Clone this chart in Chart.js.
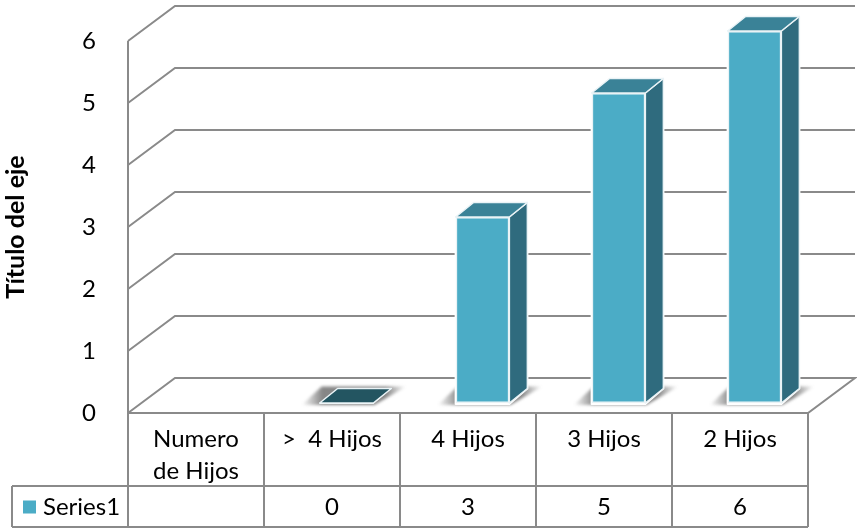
<!DOCTYPE html>
<html>
<head>
<meta charset="utf-8">
<style>
  html, body { margin: 0; padding: 0; background: #ffffff; }
  #wrap { position: relative; width: 857px; height: 529px; }
</style>
<script src="https://cdn.jsdelivr.net/npm/chart.js@4"></script>
</head>
<body>
<div id="wrap"><canvas id="chart" width="857" height="529"></canvas></div>
<script>
const categories = [["Numero", "de Hijos"], ">  4 Hijos", "4 Hijos", "3 Hijos", "2 Hijos"];
const seriesName = "Series1";
const seriesValues = [null, 0, 3, 5, 6];
const axisTitle = "Título del eje";

const FONT = "Lato, 'Open Sans', sans-serif";
const INK = "#000000";
const LINE = "#8a8a8a";
const FRONT = "#4bacc6";
const TOP = "#3a8297";
const SIDE = "#2f6b7e";
const ZERO_TOP = "#235561";

// Projection of the box: wall depth and the inset of the bars on the floor.
const WALL = { dx: 47, dy: -35 };
const BAR_OFFSET = { dx: 14.5, dy: -10 };
const BAR_DEPTH = { dx: 18, dy: -14.5 };
const TABLE = { rowY: 486, bottom: 527, legendLeft: 12 };

function polygon(ctx, pts) {
  ctx.beginPath();
  pts.forEach((p, i) => (i ? ctx.lineTo(p[0], p[1]) : ctx.moveTo(p[0], p[1])));
  ctx.closePath();
}

// Back wall, side wall and floor, placed from the value scale.
const wallPlugin = {
  id: "wall",
  beforeDatasetsDraw(chart) {
    const { ctx, chartArea: a, scales: { y } } = chart;
    ctx.save();
    ctx.strokeStyle = LINE;
    ctx.lineWidth = 2;
    ctx.lineJoin = "miter";
    y.ticks.forEach(t => {
      const py = y.getPixelForValue(t.value);
      ctx.beginPath();
      ctx.moveTo(a.left, py);
      ctx.lineTo(a.left + WALL.dx, py + WALL.dy);
      ctx.lineTo(a.right + WALL.dx, py + WALL.dy);
      if (t.value === 0) {
        ctx.lineTo(a.right, py);
        ctx.lineTo(a.left, py);
      }
      ctx.stroke();
    });
    ctx.beginPath();
    ctx.moveTo(a.left, y.getPixelForValue(6));
    ctx.lineTo(a.left, y.getPixelForValue(0));
    ctx.stroke();
    ctx.restore();
  }
};

// Soft floor shadows, side and top faces; the front faces stay with the bar elements.
const depthPlugin = {
  id: "depth",
  beforeDatasetDraw(chart) {
    const { ctx } = chart;
    const bars = chart.getDatasetMeta(0).data;
    ctx.save();
    ctx.translate(BAR_OFFSET.dx, BAR_OFFSET.dy);
    bars.forEach((bar, i) => {
      const v = seriesValues[i];
      if (v === null) return;
      const l = bar.x - bar.width / 2, r = bar.x + bar.width / 2;
      const t = bar.y, b = bar.base;
      const d = BAR_DEPTH;

      // Floor shadow, dark beside the bar and fading outwards.
      ctx.save();
      ctx.filter = "blur(1.5px)";
      const fade = ctx.createLinearGradient(l - 18, 0, r + d.dx + 15, 0);
      fade.addColorStop(0, "rgba(60,60,60,0)");
      fade.addColorStop(0.2, "rgba(60,60,60,0.62)");
      fade.addColorStop(0.8, "rgba(60,60,60,0.62)");
      fade.addColorStop(1, "rgba(60,60,60,0)");
      ctx.fillStyle = fade;
      polygon(ctx, [[l - 18, b + 2], [r + 1, b + 2], [r + d.dx + 15, b + d.dy - 2], [l + 2, b + d.dy - 2]]);
      ctx.fill();
      ctx.restore();

      ctx.fillStyle = "#ffffff";
      ctx.strokeStyle = "#ffffff";
      ctx.lineWidth = 2;
      ctx.lineJoin = "round";
      polygon(ctx, [[l, b + 1], [r, b + 1], [r + d.dx, b + d.dy], [r + d.dx, t + d.dy], [l + d.dx, t + d.dy], [l, t]]);
      ctx.fill();
      if (v > 0) ctx.stroke();

      ctx.strokeStyle = "#eaf3f6";
      ctx.lineWidth = 1.5;
      if (v > 0) {
        ctx.fillStyle = SIDE;
        polygon(ctx, [[r, t], [r + d.dx, t + d.dy], [r + d.dx, b + d.dy], [r, b]]);
        ctx.fill();
        ctx.stroke();
      }
      ctx.fillStyle = v > 0 ? TOP : ZERO_TOP;
      polygon(ctx, [[l, t], [r, t], [r + d.dx, t + d.dy], [l + d.dx, t + d.dy]]);
      ctx.fill();
      ctx.stroke();
    });
    ctx.restore();
    // Shifted so the bar elements sit on the same floor line as their faces.
    ctx.save();
    ctx.translate(BAR_OFFSET.dx, BAR_OFFSET.dy);
  },
  afterDatasetDraw(chart) {
    chart.ctx.restore();
  }
};

// Data table below the plot: grid, value row and the legend key.
const tablePlugin = {
  id: "table",
  afterDraw(chart) {
    const { ctx, chartArea: a, scales: { x } } = chart;
    const n = categories.length;
    const w = (a.right - a.left) / n;
    ctx.save();
    ctx.strokeStyle = LINE;
    ctx.lineWidth = 2;
    ctx.beginPath();
    for (let i = 0; i <= n; i++) {
      const px = a.left + w * i;
      ctx.moveTo(px, a.bottom);
      ctx.lineTo(px, TABLE.bottom);
    }
    ctx.moveTo(TABLE.legendLeft, TABLE.rowY);
    ctx.lineTo(a.right, TABLE.rowY);
    ctx.moveTo(TABLE.legendLeft, TABLE.bottom);
    ctx.lineTo(a.right, TABLE.bottom);
    ctx.moveTo(TABLE.legendLeft, TABLE.rowY);
    ctx.lineTo(TABLE.legendLeft, TABLE.bottom);
    ctx.stroke();

    const midY = (TABLE.rowY + TABLE.bottom) / 2 + 0.5;
    ctx.fillStyle = INK;
    ctx.font = "24px " + FONT;
    ctx.textBaseline = "middle";
    ctx.textAlign = "center";
    seriesValues.forEach((v, i) => {
      if (v !== null) ctx.fillText(String(v), x.getPixelForValue(i), midY);
    });
    ctx.textAlign = "left";
    ctx.fillText(seriesName, 43, midY);
    ctx.fillStyle = FRONT;
    ctx.fillRect(23, midY - 6.5, 13, 13);
    ctx.restore();
  }
};

new Chart(document.getElementById("chart"), {
  type: "bar",
  data: {
    labels: categories,
    datasets: [{
      label: seriesName,
      data: seriesValues,
      backgroundColor: FRONT,
      borderColor: "#eaf3f6",
      borderWidth: 1.5,
      borderSkipped: false,
      barPercentage: 0.395,
      categoryPercentage: 1,
      clip: false
    }]
  },
  options: {
    responsive: false,
    animation: false,
    devicePixelRatio: 1,
    layout: { padding: { left: 0, right: 49, top: 41, bottom: 0 } },
    plugins: { legend: { display: false }, tooltip: { enabled: false } },
    scales: {
      x: {
        grid: { display: false },
        border: { display: false },
        afterFit(s) { s.height = 116; },
        ticks: {
          color: INK,
          maxRotation: 0,
          autoSkip: false,
          padding: 2,
          font: { family: FONT, size: 24, lineHeight: 1.33 }
        }
      },
      y: {
        min: 0,
        max: 6,
        grid: { display: false },
        border: { display: false },
        afterFit(s) { s.width = 128; },
        ticks: {
          stepSize: 1,
          color: INK,
          padding: 24,
          font: { family: FONT, size: 24 }
        },
        title: {
          display: true,
          text: axisTitle,
          color: INK,
          padding: { top: 1, bottom: 0 },
          font: { family: FONT, size: 25, weight: "bold" }
        }
      }
    }
  },
  plugins: [wallPlugin, depthPlugin, tablePlugin]
});
</script>
</body>
</html>
